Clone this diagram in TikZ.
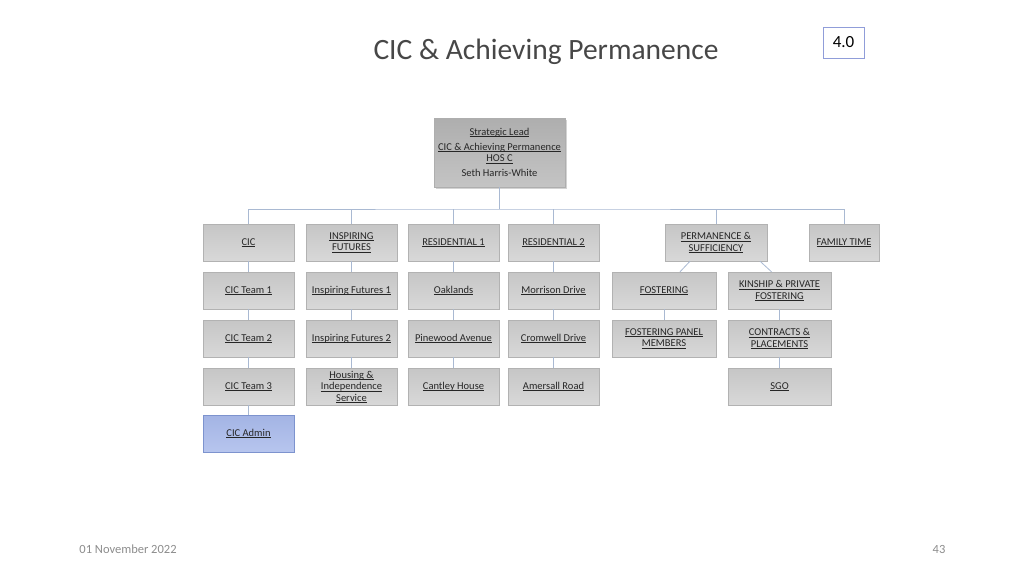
\documentclass[tikz,border=0pt]{standalone}
\usepackage{fontspec}
\setmainfont{Carlito}
\usetikzlibrary{shadows,calc}
\definecolor{boxtop}{HTML}{C6C6C6}
\definecolor{boxbot}{HTML}{D8D8D8}
\definecolor{boxline}{HTML}{B2B2B2}
\definecolor{leadtop}{HTML}{AEAEAE}
\definecolor{leadbot}{HTML}{C4C4C4}
\definecolor{admintop}{HTML}{A3B4E4}
\definecolor{adminbot}{HTML}{B7C5EE}
\definecolor{adminline}{HTML}{7D93CE}
\definecolor{linkcol}{HTML}{A9B9D2}
\definecolor{textcol}{HTML}{262626}
\newsavebox{\ulbox}
\newcommand{\ul}[1]{\sbox{\ulbox}{#1}\rlap{\rule[-1.4pt]{\wd\ulbox}{0.5pt}}\usebox{\ulbox}}
\tikzset{
  unit/.style={draw=boxline, top color=boxtop, bottom color=boxbot, text=textcol,
    font=\fontsize{10.5}{11.5}\selectfont, align=center, inner sep=1pt,
    minimum width=91pt, minimum height=37pt},
  wideunit/.style={unit, minimum width=103pt},
  lead/.style={unit, top color=leadtop, bottom color=leadbot, draw=leadtop,
    minimum width=131pt, minimum height=69pt,
    drop shadow={opacity=0.35, shadow xshift=1.5pt, shadow yshift=-1.5pt}},
  admin/.style={unit, draw=adminline, top color=admintop, bottom color=adminbot},
  link/.style={draw=linkcol, line width=0.8pt}
}
\begin{document}
\begin{tikzpicture}[x=1pt, y=-1pt]
  \useasboundingbox (0,0) rectangle (1024,576);
  % Title and page marks
  \node[text=textcol!85!white] (title) at (546,51.5) {\fontsize{29.5}{34}\selectfont CIC \& Achieving Permanence};
  \node[draw=linkcol!85!blue, line width=0.7pt, minimum width=41pt, minimum height=31pt,
        font=\fontsize{17}{20}\selectfont] (ver) at (843.5,42.5) {4.0};
  \node[text=gray!90, font=\fontsize{12.5}{15}\selectfont] (date) at (128,549) {01 November 2022};
  \node[text=gray!90, font=\fontsize{12.5}{15}\selectfont] (page) at (939,549) {43};
  % Head
  \node[lead] (slead) at (499.5,152.5) {\ul{Strategic Lead}\\[3.5pt]
    \ul{CIC \& Achieving Permanence}\\ \ul{HOS C}\\[3.5pt] Seth Harris-White};
  % Service heads
  \node[unit] (cic) at (248.5,242.5) {\ul{CIC}};
  \node[unit] (insp) at (351.5,242.5) {\ul{INSPIRING}\\ \ul{FUTURES}};
  \node[unit] (res1) at (453.5,242.5) {\ul{RESIDENTIAL 1}};
  \node[unit] (res2) at (553.5,242.5) {\ul{RESIDENTIAL 2}};
  \node[unit, minimum width=102pt] (perm) at (716,242.5) {\ul{PERMANENCE \&}\\ \ul{SUFFICIENCY}};
  \node[unit, minimum width=70pt] (famt) at (844,242.5) {\ul{FAMILY TIME}};
  % CIC column
  \node[unit] (cic1) at (248.5,290.5) {\ul{CIC Team 1}};
  \node[unit] (cic2) at (248.5,338.5) {\ul{CIC Team 2}};
  \node[unit] (cic3) at (248.5,386.5) {\ul{CIC Team 3}};
  \node[admin] (cicadm) at (248.5,433.5) {\ul{CIC Admin}};
  % Inspiring futures column
  \node[unit] (insp1) at (351.5,290.5) {\ul{Inspiring Futures 1}};
  \node[unit] (insp2) at (351.5,338.5) {\ul{Inspiring Futures 2}};
  \node[unit] (hous) at (351.5,387) {\ul{Housing \&}\\ \ul{Independence}\\ \ul{Service}};
  % Residential columns
  \node[unit] (oak) at (453.5,290.5) {\ul{Oaklands}};
  \node[unit] (pine) at (453.5,338.5) {\ul{Pinewood Avenue}};
  \node[unit] (cant) at (453.5,386.5) {\ul{Cantley House}};
  \node[unit] (morr) at (553.5,290.5) {\ul{Morrison Drive}};
  \node[unit] (crom) at (553.5,338.5) {\ul{Cromwell Drive}};
  \node[unit] (amer) at (553.5,386.5) {\ul{Amersall Road}};
  % Permanence columns
  \node[wideunit, minimum width=104pt] (fost) at (664,290.5) {\ul{FOSTERING}};
  \node[wideunit, minimum width=104pt] (panel) at (664,338.5) {\ul{FOSTERING PANEL}\\ \ul{MEMBERS}};
  \node[wideunit] (kin) at (779.5,290.5) {\ul{KINSHIP \& PRIVATE}\\ \ul{FOSTERING}};
  \node[wideunit] (cont) at (779.5,338.5) {\ul{CONTRACTS \&}\\ \ul{PLACEMENTS}};
  \node[wideunit] (sgo) at (779.5,386.5) {\ul{SGO}};
  % Connectors
  \coordinate (bus) at (499.5,209);
  \draw[link] (slead.south) -- (bus);
  \draw[link] (cic.north) |- (bus) -| (famt.north);
  \foreach \n in {insp,res1,res2,perm}
    \draw[link] (\n.north) -- (\n.north |- bus);
  \foreach \a/\b in {cic/cic1,cic1/cic2,cic2/cic3,cic3/cicadm,
                     insp/insp1,insp1/insp2,insp2/hous,
                     res1/oak,oak/pine,pine/cant,
                     res2/morr,morr/crom,crom/amer,
                     fost/panel,kin/cont,cont/sgo}
    \draw[link] (\a.south) -- (\b.north);
  \draw[link] ($(perm.south)+(-26,0)$) -- ($(fost.north)+(16,0)$);
  \draw[link] ($(perm.south)+(44,0)$) -- ($(kin.north)+(-8,0)$);
\end{tikzpicture}
\end{document}
